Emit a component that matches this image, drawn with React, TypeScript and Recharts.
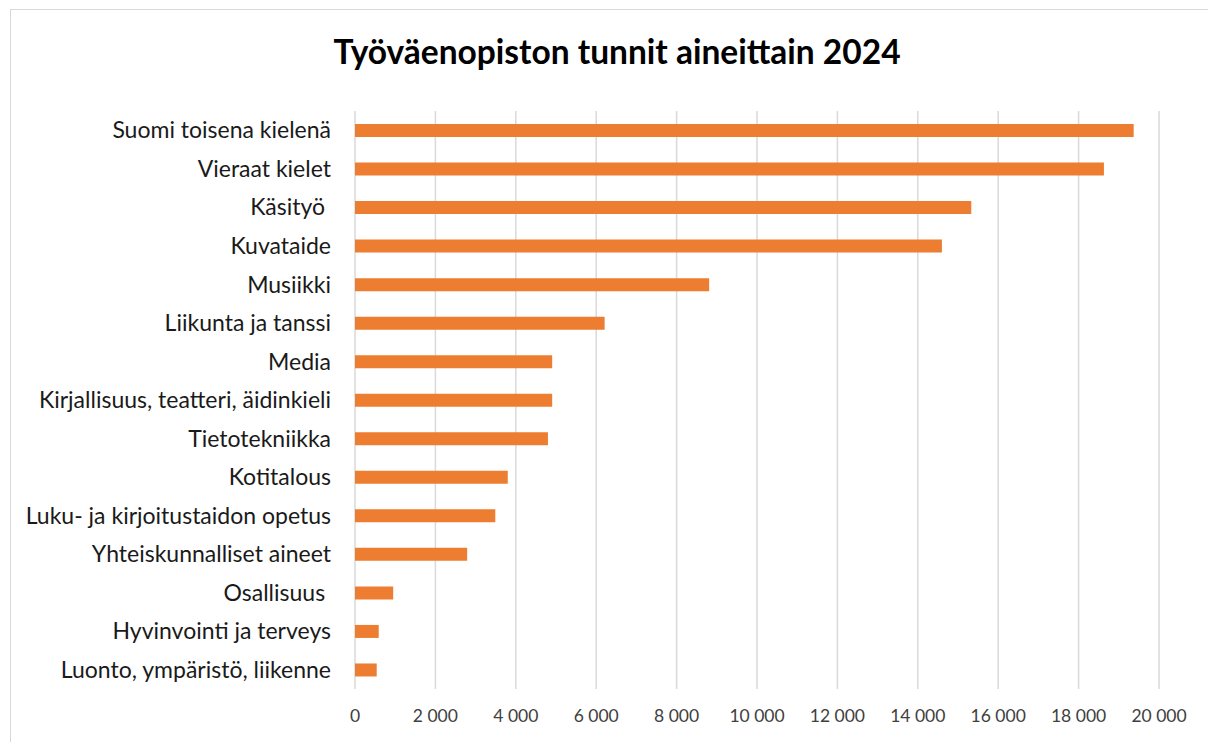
import { BarChart, Bar, XAxis, YAxis, CartesianGrid } from "recharts";

// trailing spaces kept as in the source workbook (nbsp so svg keeps them)
const subjects = [
  "Suomi toisena kielenä",
  "Vieraat kielet",
  "Käsityö\u00a0",
  "Kuvataide",
  "Musiikki",
  "Liikunta ja tanssi",
  "Media",
  "Kirjallisuus, teatteri, äidinkieli",
  "Tietotekniikka",
  "Kotitalous",
  "Luku- ja kirjoitustaidon opetus",
  "Yhteiskunnalliset aineet",
  "Osallisuus\u00a0",
  "Hyvinvointi ja terveys",
  "Luonto, ympäristö, liikenne",
];

const hours = [
  19370, 18630, 15330, 14600, 8810, 6210, 4905, 4905, 4800, 3800, 3490,
  2790, 950, 590, 540,
];

const xTicks = [0, 2000, 4000, 6000, 8000, 10000, 12000, 14000, 16000, 18000, 20000];
const xTickLabels = [
  "0", "2 000", "4 000", "6 000", "8 000", "10 000",
  "12 000", "14 000", "16 000", "18 000", "20 000",
];

const rows = subjects.map((s, i) => ({ subject: s, hours: hours[i] }));

const font = "Lato, 'Open Sans', sans-serif";

export default function App() {
  return (
    <div
      style={{
        position: "absolute",
        left: 10,
        top: 9,
        width: 1210,
        height: 740,
        border: "1px solid #d9d9d9",
        background: "#fff",
        fontFamily: font,
      }}
    >
      <div
        style={{
          position: "absolute",
          top: 21,
          left: 0,
          width: 1212,
          textAlign: "center",
          fontSize: 33.5,
          lineHeight: "40px",
          fontWeight: 700,
          color: "#000",
        }}
      >
        Työväenopiston tunnit aineittain 2024
      </div>
      <div style={{ position: "absolute", left: 0, top: 0 }}>
        <BarChart
          width={1198}
          height={733}
          data={rows}
          layout="vertical"
          margin={{ top: 101, right: 50, bottom: 24, left: 0 }}
          barCategoryGap={0}
        >
          <CartesianGrid horizontal={false} stroke="#d9d9d9" strokeWidth={1.5} />
          <XAxis
            type="number"
            domain={[0, 20000]}
            ticks={xTicks}
            tickFormatter={(v: number) => xTickLabels[xTicks.indexOf(v)]}
            axisLine={false}
            tickLine={false}
            tickSize={8}
            tickMargin={13}
            height={30}
            tick={{ fill: "#404040", fontSize: 17.5, fontFamily: font }}
          />
          <YAxis
            type="category"
            dataKey="subject"
            width={344}
            axisLine={false}
            tickLine={false}
            tickSize={8}
            tickMargin={16}
            interval={0}
            tick={{ fill: "#1a1a1a", fontSize: 23, fontFamily: font }}
          />
          <Bar dataKey="hours" fill="#ED7D31" barSize={13} isAnimationActive={false} />
        </BarChart>
      </div>
    </div>
  );
}
